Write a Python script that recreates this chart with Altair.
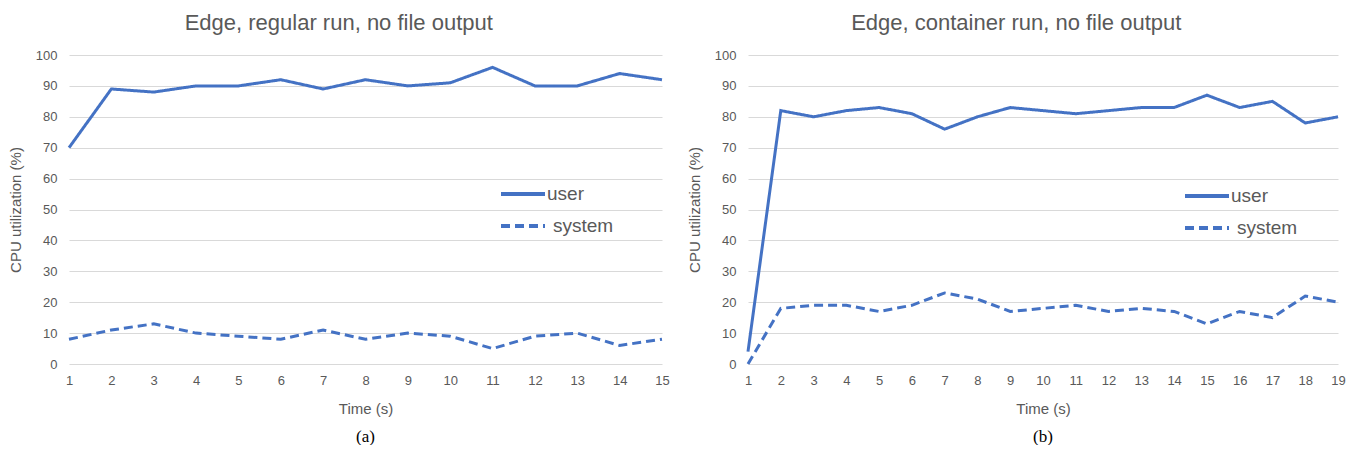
import altair as alt
import pandas as pd

time_a = list(range(1, 16))
user_a = [70, 89, 88, 90, 90, 92, 89, 92, 90, 91, 96, 90, 90, 94, 92]
system_a = [8, 11, 13, 10, 9, 8, 11, 8, 10, 9, 5, 9, 10, 6, 8]

time_b = list(range(1, 20))
user_b = [4, 82, 80, 82, 83, 81, 76, 80, 83, 82, 81, 82, 83, 83, 87, 83, 85, 78, 80]
system_b = [0, 18, 19, 19, 17, 19, 23, 21, 17, 18, 19, 17, 18, 17, 13, 17, 15, 22, 20]

series_names = ["user", "system"]
y_ticks = list(range(0, 101, 10))

BLUE = "#4472C4"
GRAY = "#595959"
GRID = "#D9D9D9"
SANS = "Liberation Sans"


def panel(times, user, system, title, caption, w, h, leg_x, leg_y):
    df = pd.DataFrame({
        "t": times * 2,
        "v": user + system,
        "series": ["user"] * len(times) + ["system"] * len(times),
    })
    x = alt.X("t:Q", scale=alt.Scale(domain=[times[0], times[-1]], nice=False, zero=False),
              axis=alt.Axis(values=times, title="Time (s)", grid=False, domain=False, ticks=False,
                            labelPadding=10, titlePadding=14, labelFontSize=13, titleFontSize=15,
                            titleFontWeight="normal",
                            labelColor=GRAY, titleColor=GRAY, labelFont=SANS, titleFont=SANS,
                            labelFlush=False))
    y = alt.Y("v:Q", scale=alt.Scale(domain=[0, 100], nice=False),
              axis=alt.Axis(values=y_ticks, title="CPU utilization (%)", grid=True, gridColor=GRID,
                            gridWidth=1, domain=False, ticks=False, labelPadding=12, titlePadding=12,
                            labelFontSize=13, titleFontSize=15, titleFontWeight="normal",
                            labelColor=GRAY, titleColor=GRAY,
                            labelFont=SANS, titleFont=SANS))
    lines = alt.Chart(df).mark_line(color=BLUE, strokeWidth=3).encode(
        x=x, y=y,
        strokeDash=alt.StrokeDash("series:N", scale=alt.Scale(domain=series_names, range=[[1, 0], [9, 5]]), legend=None),
        detail="series:N",
    )
    leg_df = pd.DataFrame({"series": series_names, "row": [0, 1]})
    leg_user = alt.Chart(leg_df[leg_df.series == "user"]).mark_rule(color=BLUE, strokeWidth=4).encode(
        x=alt.value(leg_x), x2=alt.value(leg_x + 44), y=alt.value(leg_y))
    leg_sys = alt.Chart(leg_df[leg_df.series == "system"]).mark_rule(color=BLUE, strokeWidth=4, strokeDash=[9, 5]).encode(
        x=alt.value(leg_x), x2=alt.value(leg_x + 44), y=alt.value(leg_y + 32))
    leg_t_user = alt.Chart(leg_df[leg_df.series == "user"]).mark_text(
        align="left", baseline="middle", fontSize=19, color=GRAY, font=SANS).encode(
        x=alt.value(leg_x + 46), y=alt.value(leg_y), text="series:N")
    leg_t_sys = alt.Chart(leg_df[leg_df.series == "system"]).mark_text(
        align="left", baseline="middle", fontSize=19, color=GRAY, font=SANS).encode(
        x=alt.value(leg_x + 52), y=alt.value(leg_y + 32), text="series:N")
    cap = alt.Chart(pd.DataFrame({"c": [caption]})).mark_text(
        fontSize=17, color="black", font="Liberation Serif", baseline="middle").encode(
        x=alt.value(w / 2), y=alt.value(h + 73), text="c:N")
    return alt.layer(lines, leg_user, leg_sys, leg_t_user, leg_t_sys, cap).properties(
        width=w, height=h,
        title=alt.TitleParams(title, fontSize=22, font=SANS, color=GRAY, fontWeight="normal",
                              anchor="middle", frame="bounds", offset=14),
    )


left = panel(time_a, user_a, system_a, "Edge, regular run, no file output", "(a)", 593, 309, 432, 139)
right = panel(time_b, user_b, system_b, "Edge, container run, no file output", "(b)", 590, 309, 437, 141)

chart = alt.hconcat(left, right, spacing=17).configure_view(stroke=None).properties(
    padding={"top": 4, "left": 0, "right": 0, "bottom": 0})

chart.save("out.html", embed_options={"renderer": "svg", "actions": False})
